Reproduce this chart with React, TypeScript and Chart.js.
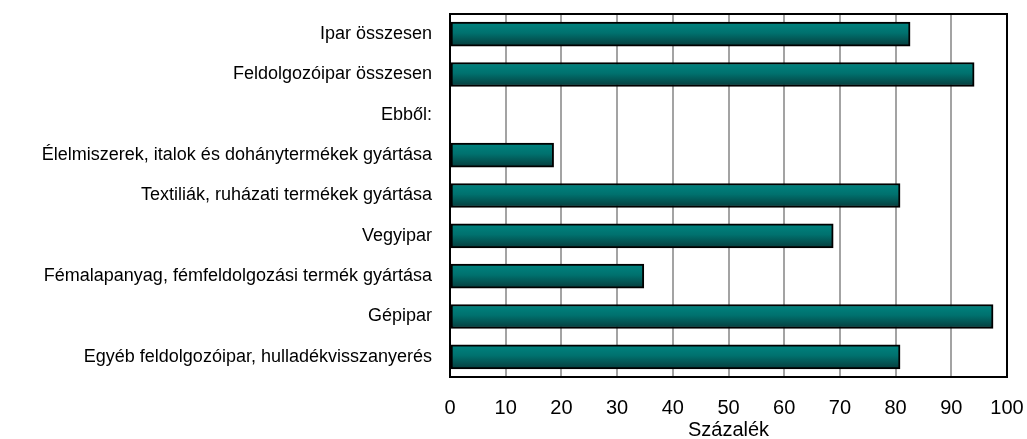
import React, { useEffect, useRef } from "react";
import { Chart, registerables } from "chart.js";

Chart.register(...registerables);

const categories: string[] = [
  "Ipar összesen",
  "Feldolgozóipar összesen",
  "Ebből:",
  "Élelmiszerek, italok és dohánytermékek gyártása",
  "Textiliák, ruházati termékek gyártása",
  "Vegyipar",
  "Fémalapanyag, fémfeldolgozási termék gyártása",
  "Gépipar",
  "Egyéb feldolgozóipar, hulladékvisszanyerés",
];

const values: (number | null)[] = [82.6, 94.1, null, 18.6, 80.8, 68.8, 34.8, 97.5, 80.8];

const axisMin = 0;
const axisMax = 100;
const axisStep = 10;
const axisTitle = "Százalék";

const FONT = "'Liberation Sans', Arial, sans-serif";

const plotBorder = {
  id: "plotBorder",
  afterDatasetsDraw(chart: any) {
    const { ctx, chartArea } = chart;
    ctx.save();
    ctx.strokeStyle = "#000";
    ctx.lineWidth = 2;
    ctx.strokeRect(chartArea.left, chartArea.top, chartArea.right - chartArea.left, chartArea.bottom - chartArea.top);
    ctx.restore();
  },
};

export default function App() {
  const ref = useRef<HTMLCanvasElement | null>(null);

  useEffect(() => {
    document.body.style.margin = "0";
    if (!ref.current) return;
    const chart = new Chart(ref.current, {
      type: "bar",
      data: {
        labels: categories,
        datasets: [
          {
            data: values,
            backgroundColor: (c: any) => {
              const ch = c.chart;
              if (!ch.chartArea || !ch.scales.y) return "#006a6a";
              const y = ch.scales.y.getPixelForValue(c.dataIndex);
              const g = ch.ctx.createLinearGradient(0, y - 12, 0, y + 12);
              g.addColorStop(0, "#008480");
              g.addColorStop(0.45, "#00716e");
              g.addColorStop(1, "#063c3c");
              return g;
            },
            borderColor: "#000",
            borderWidth: 2,
            borderSkipped: false,
            barThickness: 24,
          },
        ],
      },
      options: {
        indexAxis: "y",
        animation: false,
        responsive: false,
        maintainAspectRatio: false,
        layout: { padding: { top: 14, right: 20, left: 0, bottom: 0 } },
        plugins: { legend: { display: false }, tooltip: { enabled: false } },
        scales: {
          x: {
            min: axisMin,
            max: axisMax,
            ticks: {
              stepSize: axisStep,
              color: "#000",
              padding: 0,
              font: { family: FONT, size: 20 },
            },
            grid: {
              color: "#a3a3a3",
              lineWidth: 2,
              drawTicks: true,
              tickLength: 19,
              tickColor: "rgba(0,0,0,0)",
            },
            border: { display: false },
            title: {
              display: true,
              text: axisTitle,
              color: "#000",
              font: { family: FONT, size: 20, lineHeight: 1 },
              padding: { top: 0, bottom: -1 },
            },
            afterFit: (s: any) => {
              s.height = 62;
            },
          },
          y: {
            ticks: {
              color: "#000",
              padding: 0,
              font: { family: FONT, size: 18 },
            },
            grid: {
              display: true,
              color: "rgba(0,0,0,0)",
              drawTicks: true,
              tickLength: 18,
              tickColor: "rgba(0,0,0,0)",
            },
            border: { display: false },
            afterFit: (s: any) => {
              s.width = 450;
            },
          },
        },
      },
      plugins: [plotBorder],
    });
    return () => chart.destroy();
  }, []);

  return (
    <div style={{ position: "absolute", left: 0, top: 0, width: 1027, height: 439 }}>
      <canvas ref={ref} width={1027} height={439} style={{ width: 1027, height: 439 }} />
    </div>
  );
}
